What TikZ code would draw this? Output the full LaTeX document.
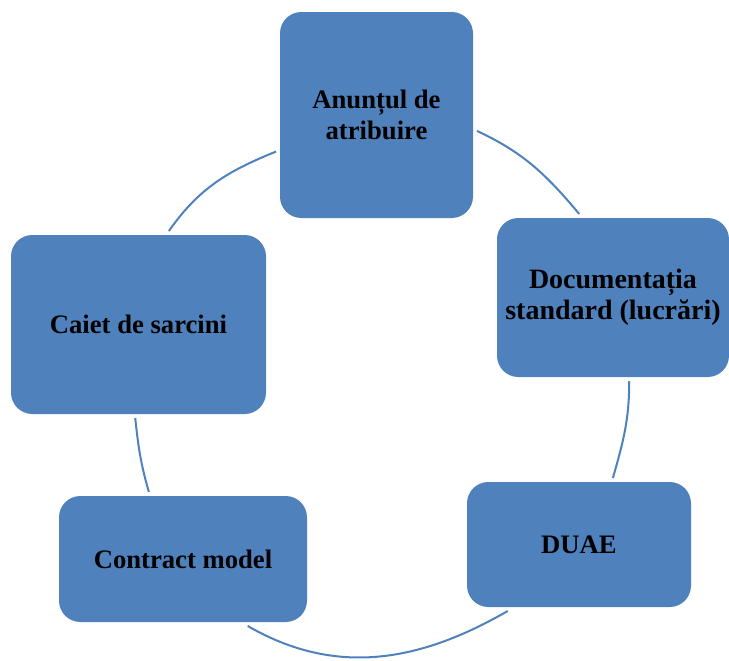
\documentclass[tikz,border=0pt]{standalone}
\usepackage{fontspec}
\setmainfont{Liberation Serif}
\definecolor{boxblue}{HTML}{4F81BD}
\begin{document}
\begin{tikzpicture}[x=0.75pt,y=-0.75pt]
		\tikzset{
			stage/.style={fill=boxblue, rounded corners=16pt, align=center, inner sep=0pt, outer sep=3pt,
				font=\fontsize{20}{23}\selectfont\bfseries},
			cycleline/.style={draw=boxblue, line width=1.5pt}
		}
		\useasboundingbox (0,0) rectangle (729,661);
		%Centres of the boxes
		\coordinate (cAnunt) at (376.5,115);
		\coordinate (cDoc) at (613,297.5);
		\coordinate (cDuae) at (579,544.5);
		\coordinate (cContract) at (183,559);
		\coordinate (cCaiet) at (138.5,324.5);
		%The boxes
		\node [stage, minimum width=144.75pt, minimum height=154.5pt] (anunt) at (cAnunt) {Anunțul de\\atribuire};
		\node [stage, minimum width=174pt, minimum height=119.25pt, font=\fontsize{21}{23}\selectfont\bfseries] (doc) at (cDoc) {Documentația\\standard (lucrări)};
		\node [stage, minimum width=168pt, minimum height=93.75pt] (duae) at (cDuae) {DUAE};
		\node [stage, minimum width=186pt, minimum height=94.5pt] (contract) at (cContract) {Contract model};
		\node [stage, minimum width=191.25pt, minimum height=134.25pt] (caiet) at (cCaiet) {Caiet de sarcini};
		%Arcs of the cycle
		\draw [cycleline] (anunt.-9) to[out=-25, in=130] (doc.112);
		\draw [cycleline] (doc.-79) to[out=-90, in=74] (duae.63);
		\draw [cycleline] (duae.223) to[out=210, in=-30] (contract.-46);
		\draw [cycleline] (contract.117) to[out=106, in=-84] (caiet.268);
		\draw [cycleline] (caiet.72) to[out=55, in=202] (anunt.200);
		\end{tikzpicture}
\end{document}
